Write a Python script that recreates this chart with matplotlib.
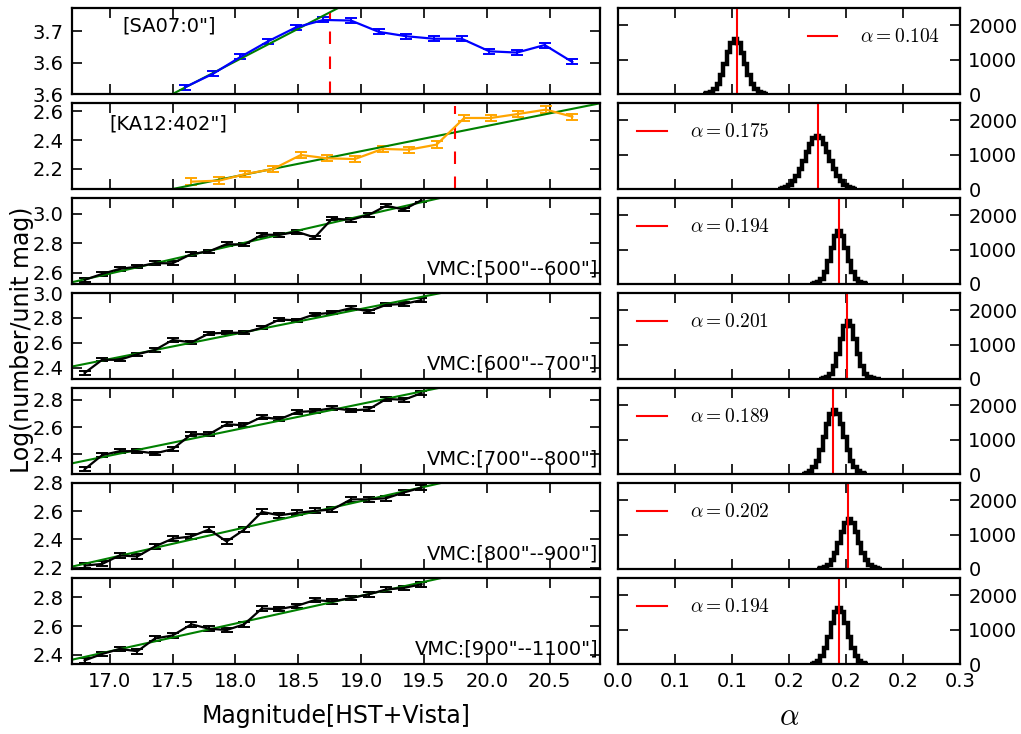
import numpy as np
import matplotlib
matplotlib.use("Agg")
import matplotlib.pyplot as plt
from matplotlib.lines import Line2D

plt.rcParams['font.family'] = ['DejaVu Sans']
plt.rcParams['mathtext.fontset'] = 'cm'

# ---------------- data ----------------
mag_sa07 = [17.60, 17.82, 18.04, 18.26, 18.48, 18.70, 18.92, 19.14, 19.36, 19.58,
            19.80, 20.02, 20.24, 20.46, 20.68]
val_sa07 = [3.561, 3.582, 3.609, 3.634, 3.656, 3.668, 3.667, 3.649, 3.642, 3.638,
            3.638, 3.618, 3.616, 3.628, 3.601]
err_sa07 = [0.004] * 15

mag_ka12 = [17.65, 17.87, 18.08, 18.30, 18.52, 18.73, 18.95, 19.17, 19.38, 19.60,
            19.82, 20.03, 20.25, 20.47, 20.68]
val_ka12 = [2.112, 2.119, 2.165, 2.200, 2.297, 2.274, 2.269, 2.339, 2.334, 2.369,
            2.554, 2.554, 2.582, 2.612, 2.563]
err_ka12 = [0.022] * 15

mag_vmc = [16.80, 16.94, 17.08, 17.22, 17.36, 17.50, 17.65, 17.79, 17.93, 18.07,
           18.21, 18.35, 18.49, 18.63, 18.77, 18.92, 19.06, 19.20, 19.34, 19.48]
val_500_600 = [2.553, 2.593, 2.627, 2.642, 2.665, 2.665, 2.727, 2.745, 2.794, 2.790,
               2.857, 2.857, 2.877, 2.839, 2.966, 2.958, 2.991, 3.053, 3.027, 3.090]
val_600_700 = [2.358, 2.464, 2.464, 2.509, 2.543, 2.623, 2.604, 2.675, 2.681, 2.681,
               2.721, 2.787, 2.781, 2.829, 2.842, 2.879, 2.853, 2.905, 2.912, 2.943]
val_700_800 = [2.291, 2.395, 2.424, 2.424, 2.407, 2.439, 2.548, 2.548, 2.621, 2.613,
               2.674, 2.657, 2.710, 2.718, 2.739, 2.722, 2.730, 2.806, 2.800, 2.848]
val_800_900 = [2.214, 2.226, 2.286, 2.279, 2.350, 2.405, 2.421, 2.470, 2.385, 2.469,
               2.595, 2.571, 2.588, 2.602, 2.612, 2.684, 2.684, 2.692, 2.733, 2.767]
val_900_1100 = [2.360, 2.405, 2.440, 2.424, 2.513, 2.534, 2.612, 2.581, 2.572, 2.612,
                2.722, 2.718, 2.741, 2.781, 2.772, 2.795, 2.821, 2.855, 2.866, 2.891]
err_vmc = [0.012, 0.013, 0.014, 0.016, 0.018]

labels = ['[SA07:0"]', '[KA12:402"]', 'VMC:[500"--600"]', 'VMC:[600"--700"]',
          'VMC:[700"--800"]', 'VMC:[800"--900"]', 'VMC:[900"--1100"]']
alphas = [0.104, 0.175, 0.194, 0.201, 0.189, 0.202, 0.194]
fit_intercept_at_16p7 = [3.4668, 1.921, 2.537, 2.410, 2.335, 2.207, 2.365]
break_mag = [18.75, 19.75]
break_top = [3.679, 2.635]

# posterior histograms of alpha (bin width 0.003)
hist_start = [0.0745, 0.1405, 0.1685, 0.1765, 0.1615, 0.1745, 0.1685]
hist_counts = [
    [5, 20, 55, 140, 290, 540, 860, 1210, 1480, 1590, 1470, 1200, 870, 550, 300, 140, 60, 20, 6],
    [14, 31, 64, 124, 223, 370, 574, 815, 1076, 1308, 1470, 1530, 1470, 1308, 1076, 815, 574, 370, 223, 124, 64, 31, 14],
    [3, 15, 51, 145, 339, 658, 1055, 1401, 1540, 1401, 1055, 658, 339, 145, 51, 15, 3],
    [3, 17, 56, 158, 370, 717, 1150, 1529, 1680, 1529, 1150, 717, 370, 158, 56, 17, 6, 2],
    [13, 35, 87, 196, 392, 686, 1062, 1449, 1748, 1860, 1748, 1449, 1062, 686, 392, 196, 87, 35, 13],
    [4, 16, 46, 114, 248, 468, 766, 1087, 1342, 1440, 1342, 1087, 766, 468, 248, 114, 46, 16, 4],
    [10, 33, 91, 220, 453, 794, 1183, 1505, 1630, 1505, 1183, 794, 453, 220, 91, 33, 10],
]
bin_width = 0.003

ylims = [(3.55, 3.687), (2.061, 2.658), (2.525, 3.105), (2.31, 3.0),
         (2.257, 2.886), (2.19, 2.8), (2.335, 2.935)]
yticks = [[3.55, 3.60, 3.65], [2.2, 2.4, 2.6], [2.6, 2.8, 3.0], [2.4, 2.6, 2.8, 3.0],
          [2.4, 2.6, 2.8], [2.2, 2.4, 2.6, 2.8], [2.4, 2.6, 2.8]]
yticklabels = [["3.6", "3.6", "3.7"], ["2.2", "2.4", "2.6"], ["2.6", "2.8", "3.0"],
               ["2.4", "2.6", "2.8", "3.0"], ["2.4", "2.6", "2.8"],
               ["2.2", "2.4", "2.6", "2.8"], ["2.4", "2.6", "2.8"]]
mag_ticks = [17.0, 17.5, 18.0, 18.5, 19.0, 19.5, 20.0, 20.5]
alpha_ticks = [0.0, 0.05, 0.10, 0.15, 0.20, 0.25, 0.30]
alpha_ticklabels = ["0.0", "0.1", "0.1", "0.2", "0.2", "0.2", "0.3"]

# ---------------- figure ----------------
W, H = 1021, 734
fig = plt.figure(figsize=(W / 100, H / 100), dpi=100)

xl, xr = 72, 600
rl, rr = 618, 960
top0, ph, step = 8, 86, 95

series = [(mag_sa07, val_sa07, err_sa07, 'b'),
          (mag_ka12, val_ka12, err_ka12, 'orange'),
          (mag_vmc, val_500_600, [err_vmc[0]] * 20, 'k'),
          (mag_vmc, val_600_700, [err_vmc[1]] * 20, 'k'),
          (mag_vmc, val_700_800, [err_vmc[2]] * 20, 'k'),
          (mag_vmc, val_800_900, [err_vmc[4]] * 20, 'k'),
          (mag_vmc, val_900_1100, [err_vmc[3]] * 20, 'k')]

XMIN, XMAX = 16.7, 20.9
fs_tick = 14

def style(ax):
    ax.tick_params(direction='in', length=7, width=1.2, top=True, right=True,
                   labelsize=fs_tick, pad=6)
    for s in ax.spines.values():
        s.set_linewidth(1.6)

for i in range(7):
    top = top0 + i * step
    bottom = 1 - (top + ph) / H
    ax = fig.add_axes([xl / W, bottom, (xr - xl) / W, ph / H])
    mags, vals, errs, col = series[i]
    ax.errorbar(mags, vals, yerr=errs, color=col, lw=1.6, capsize=4.5, capthick=1.4,
                elinewidth=1.4)
    xs = np.array([XMIN, XMAX])
    ax.plot(xs, fit_intercept_at_16p7[i] + alphas[i] * (xs - XMIN), color='g', lw=1.5)
    ax.set_xlim(XMIN, XMAX)
    ax.set_ylim(*ylims[i])
    if i < 2:
        ax.vlines(break_mag[i], ylims[i][0], break_top[i], colors='r',
                  linestyles=(0, (6, 6)), lw=1.5)
    ax.set_yticks(yticks[i])
    ax.set_yticklabels(yticklabels[i])
    ax.set_xticks(mag_ticks)
    style(ax)
    if i == 6:
        ax.set_xticklabels([f"{t:.1f}" for t in mag_ticks])
        ax.set_xlabel('Magnitude[HST+Vista]', fontsize=17, labelpad=9)
    else:
        ax.set_xticklabels([])
    if i == 0:
        ax.text(0.095, 0.79, labels[i], transform=ax.transAxes,
                fontsize=14, ha='left', va='center')
    elif i == 1:
        ax.text(0.07, 0.76, labels[i], transform=ax.transAxes,
                fontsize=14, ha='left', va='center')
    else:
        ax.text(0.997, 0.17, labels[i], transform=ax.transAxes, fontsize=14,
                ha='right', va='center')

    # right histogram
    axr = fig.add_axes([rl / W, bottom, (rr - rl) / W, ph / H])
    cnt = hist_counts[i]
    edges = hist_start[i] + bin_width * np.arange(len(cnt) + 1)
    axr.stairs(cnt, edges, color='k', lw=3.2)
    axr.axvline(alphas[i], color='r', lw=1.5)
    axr.set_xlim(0, 0.3)
    axr.set_ylim(0, 2500)
    axr.yaxis.tick_right()
    axr.set_yticks([0, 1000, 2000])
    axr.set_xticks(alpha_ticks)
    style(axr)
    axr.tick_params(left=True, labelleft=False, labelright=True)
    if i == 6:
        axr.set_xticklabels(alpha_ticklabels)
        axr.set_xlabel(r'$\alpha$', fontsize=22, labelpad=8)
    else:
        axr.set_xticklabels([])
    h = Line2D([], [], color='r', lw=1.5)
    loc = 'upper right' if i == 0 else 'upper left'
    axr.legend([h], [r'$\alpha=%.3f$' % alphas[i]], loc=loc, frameon=False,
               fontsize=14, handlelength=1.5, handletextpad=1.2, borderaxespad=0.6)

fig.text(22 / W, 1 - 340 / H, 'Log(number/unit mag)', rotation=90, fontsize=17,
         ha='center', va='center')

fig.savefig('out.png', dpi=100)
